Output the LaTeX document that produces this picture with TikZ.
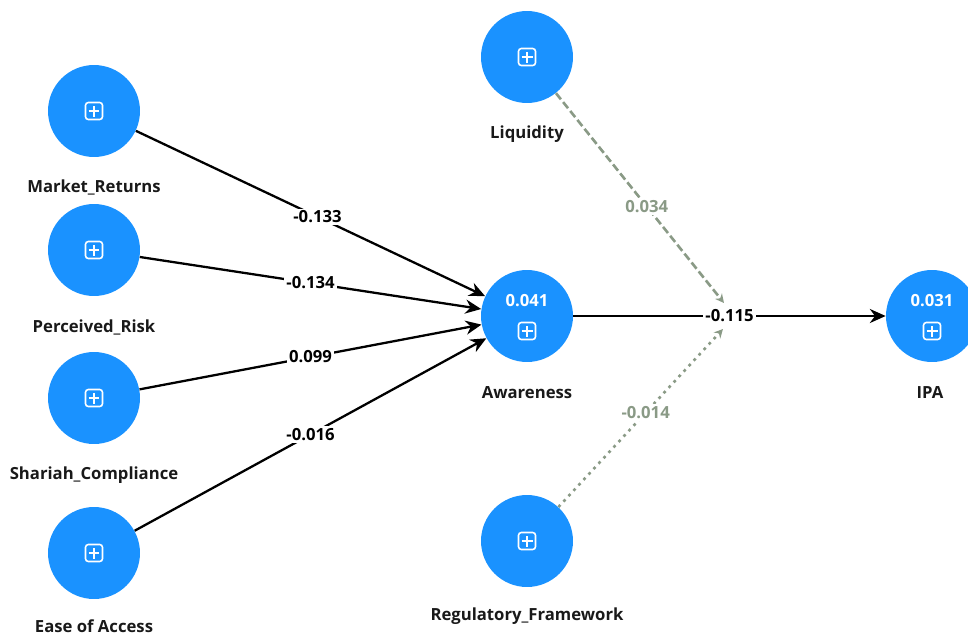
\documentclass[tikz,border=0pt]{standalone}
\usepackage{fontspec}
\setmainfont{Open Sans}
\usetikzlibrary{arrows.meta,positioning,calc}
\definecolor{lvblue}{HTML}{1A92FF}
\definecolor{modgray}{HTML}{8A9A86}

\begin{document}
\begin{tikzpicture}[x=0.02cm, y=-0.02cm,
  construct/.style={circle, fill=lvblue, minimum size=1.84cm, inner sep=0pt},
  pbox/.style={draw=white, rounded corners=1.6pt, line width=0.9pt,
               minimum size=0.34cm, inner sep=0pt,
               path picture={
                 \draw[white, line width=0.9pt]
                   ([xshift=-0.11cm]path picture bounding box.center) --
                   ([xshift=0.11cm]path picture bounding box.center)
                   ([yshift=-0.11cm]path picture bounding box.center) --
                   ([yshift=0.11cm]path picture bounding box.center);}},
  cname/.style={font=\fontsize{9.5}{11}\selectfont\bfseries, text=black!90,
                inner sep=1pt},
  rsq/.style={font=\fontsize{9.5}{11}\selectfont\bfseries, text=white},
  coef/.style={font=\fontsize{9.5}{11}\selectfont\bfseries, fill=white,
               inner sep=1.2pt},
  modcoef/.style={font=\fontsize{9.5}{11}\selectfont\bfseries, text=modgray,
                  fill=white, inner sep=1.2pt},
  edge/.style={draw, line width=1.3pt, -{Stealth[length=9pt, width=8pt]}},
  modedge/.style={draw=modgray, line width=1.5pt,
                  -{Stealth[length=5pt, width=5pt]}},
]
  \useasboundingbox (0,0) rectangle (968,636);

  % exogenous constructs, left column
  \node[construct] (mr) at (94,111) {};
  \node[construct] (pr) at (94,250) {};
  \node[construct] (sc) at (94,398) {};
  \node[construct] (ea) at (94,553) {};

  % middle column
  \node[construct] (liq) at (527,57) {};
  \node[construct] (aw) at (527,316) {};
  \node[construct] (rf) at (527,541) {};

  % outcome
  \node[construct] (ipa) at (932,316) {};

  % plus icons
  \node[pbox] (mrp) at (mr) {};
  \node[pbox] (prp) at (pr) {};
  \node[pbox] (scp) at (sc) {};
  \node[pbox] (eap) at (ea) {};
  \node[pbox] (liqp) at (liq) {};
  \node[pbox] (rfp) at (rf) {};
  \node[pbox] (awp) at ($(aw.center)+(0,15)$) {};
  \node[pbox] (ipap) at ($(ipa.center)+(0,15)$) {};

  % R-squared values
  \node[rsq] (awr) at ($(aw.center)+(0,-15)$) {0.041};
  \node[rsq] (ipar) at ($(ipa.center)+(0,-15)$) {0.031};

  % construct names
  \node[cname] (mrn) at (94,187) {Market\_Returns};
  \node[cname] (prn) at (94,327) {Perceived\_Risk};
  \node[cname] (scn) at (94,475) {Shariah\_Compliance};
  \node[cname] (ean) at (94,626) {Ease of Access};
  \node[cname] (liqn) at (527,134) {Liquidity};
  \node[cname] (awn) at (527,393) {Awareness};
  \node[cname] (rfn) at (527,616) {Regulatory\_Framework};
  \node[cname] (ipan) at (930,393) {IPA};

  % structural paths
  \draw[edge] (mr) -- node[coef, pos=0.52] {-0.133} (aw);
  \draw[edge] (pr) -- node[coef] {-0.134} (aw);
  \draw[edge] (sc) -- node[coef] {0.099} (aw);
  \draw[edge] (ea) -- node[coef] {-0.016} (aw);
  \draw[edge] (aw) -- node[coef] (m115) {-0.115} (ipa);

  % moderating effects
  \coordinate (modtop) at (724,303);
  \coordinate (modbot) at (723,329);
  \draw[modedge, dash pattern=on 4.5pt off 2pt] (liq) -- node[modcoef, pos=0.54] {0.034} (modtop);
  \draw[modedge, dash pattern=on 1.6pt off 2.6pt] (rf) -- node[modcoef, pos=0.53] {-0.014} (modbot);

\end{tikzpicture}
\end{document}
